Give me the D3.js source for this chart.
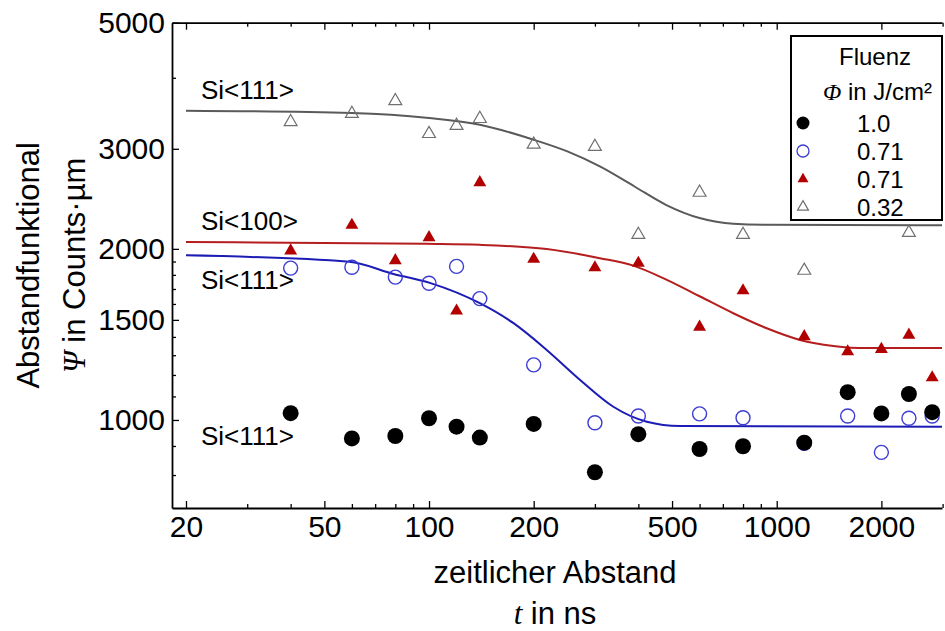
<!DOCTYPE html>
<html>
<head>
<meta charset="utf-8">
<script src="https://cdn.jsdelivr.net/npm/d3@7"></script>
<style>
  body { margin: 0; background: #fff; }
  svg { display: block; font-family: "Liberation Sans", Arial, sans-serif; }
</style>
</head>
<body>
<svg id="chart" width="945" height="631"></svg>
<script>
// Delay times between pulses (ns)
const times = [40, 60, 80, 100, 120, 140, 200, 300, 400, 600, 800, 1200, 1600, 2000, 2400, 2800];

// Distance functional Ψ (Counts·µm) per fluence series
const psiSi111Phi100 = [1028, 928, 937, 1007, 973, 931, 984, 809, 944, 889, 899, 912, 1119, 1027, 1111, 1032];
const psiSi111Phi071 = [1850, 1857, 1784, 1740, 1863, 1635, 1250, 989, 1016, 1025, 1009, 910, 1016, 877, 1007, 1016];
const psiSi100Phi071 = [1985, 2202, 1908, 2094, 1556, 2617, 1919, 1854, 1888, 1457, 1689, 1402, 1319, 1332, 1411, 1187];
const psiSi111Phi032 = [3344, 3458, 3641, 3188, 3294, 3388, 3053, 3025, 2118, 2513, 2118, 1832, null, 2290, 2135, null];

// Fitted step curves, sampled along t
const fitSi111Phi032T = [20, 60, 100, 140, 200, 250, 310, 390, 480, 600, 750, 940, 2988];
const fitSi111Phi032V = [3500, 3468, 3398, 3307, 3112, 2968, 2793, 2575, 2391, 2266, 2214, 2205, 2201];
const fitSi100Phi071T = [20, 98, 140, 218, 310, 387, 483, 602, 750, 936, 1167, 1455, 1814, 2988];
const fitSi100Phi071V = [2056, 2041, 2033, 1998, 1926, 1869, 1764, 1649, 1541, 1450, 1383, 1350, 1338, 1338];
const fitSi111Phi071T = [20, 59, 79, 101, 140, 175, 218, 272, 339, 423, 527, 2988];
const fitSi111Phi071V = [1948, 1898, 1807, 1741, 1605, 1480, 1328, 1176, 1055, 993, 976, 973];

// Legend and annotation texts
const legendTitle = "Fluenz";
const legendLabels = ["1.0", "0.71", "0.71", "0.32"];
const curveLabels = ["Si<111>", "Si<100>", "Si<111>", "Si<111>"];

// Axis ticks
const xMajorTicks = [20, 50, 100, 200, 500, 1000, 2000];
const xMinorTicks = [30, 40, 60, 70, 80, 90, 300, 400, 600, 700, 800, 900, 3000];
const yMajorTicks = [1000, 1500, 2000, 3000, 5000];
const yMinorTicks = [800, 900, 1100, 1200, 1300, 1400, 1600, 1700, 1800, 1900, 4000];

const svg = d3.select("#chart");
const L = 172, R = 942, T = 22.7, B = 508;

const x = d3.scaleLog().domain([18.23, 2988]).range([L, R]);
const y = d3.scaleLog().domain([700, 5000]).range([B, T]);

const colors = {
  black: "#000000",
  blueMark: "#3c3cd4",
  blueLine: "#1c1cb4",
  red: "#b20000",
  redLine: "#b51e1e",
  grayMark: "#707070",
  grayLine: "#5a5a5a"
};

// ---- axes ----
function styleAxis(g) {
  g.attr("font-family", null).attr("font-size", null);
  g.selectAll("path.domain").attr("stroke", "#000").attr("stroke-width", 1.8);
  g.selectAll(".tick line").attr("stroke", "#000").attr("stroke-width", 1.3);
  g.selectAll(".tick text").attr("fill", "#000").style("font-size", "30px")
    .style("font-family", "'Liberation Sans', Arial, sans-serif");
}

const fmt = d3.format("d");

svg.append("g").attr("transform", `translate(0,${B})`)
  .call(d3.axisBottom(x).tickValues(xMajorTicks).tickSize(-7).tickSizeOuter(0).tickPadding(8).tickFormat(fmt))
  .call(styleAxis);
svg.append("g").attr("transform", `translate(0,${B})`)
  .call(d3.axisBottom(x).tickValues(xMinorTicks).tickSize(-4).tickSizeOuter(0).tickFormat(""))
  .call(styleAxis).call(g => g.select(".domain").remove());

svg.append("g").attr("transform", `translate(0,${T})`)
  .call(d3.axisTop(x).tickValues(xMajorTicks).tickSize(-7).tickSizeOuter(0).tickFormat(""))
  .call(styleAxis);
svg.append("g").attr("transform", `translate(0,${T})`)
  .call(d3.axisTop(x).tickValues(xMinorTicks).tickSize(-4).tickSizeOuter(0).tickFormat(""))
  .call(styleAxis).call(g => g.select(".domain").remove());

svg.append("g").attr("transform", `translate(${L},0)`)
  .call(d3.axisLeft(y).tickValues(yMajorTicks).tickSize(-7).tickSizeOuter(0).tickPadding(7).tickFormat(fmt))
  .call(styleAxis);
svg.append("g").attr("transform", `translate(${L},0)`)
  .call(d3.axisLeft(y).tickValues(yMinorTicks).tickSize(-4).tickSizeOuter(0).tickFormat(""))
  .call(styleAxis).call(g => g.select(".domain").remove());

// ---- axis titles ----
const cx = (L + R) / 2;
svg.append("text").attr("x", cx - 2).attr("y", 583).attr("text-anchor", "middle")
  .style("font-size", "31px").text("zeitlicher Abstand");
const tLabel = svg.append("text").attr("x", cx - 2).attr("y", 624).attr("text-anchor", "middle")
  .style("font-size", "31px");
tLabel.append("tspan").style("font-family", "'Liberation Serif', serif").style("font-style", "italic").text("t");
tLabel.append("tspan").text(" in ns");

const cy = (T + B) / 2;
svg.append("text").attr("transform", `translate(39,${cy}) rotate(-90)`).attr("text-anchor", "middle")
  .style("font-size", "31px").text("Abstandfunktional");
const psiLabel = svg.append("text").attr("transform", `translate(85,${cy}) rotate(-90)`).attr("text-anchor", "middle")
  .style("font-size", "31px");
psiLabel.append("tspan").style("font-family", "'Liberation Serif', serif").style("font-style", "italic").text("Ψ");
psiLabel.append("tspan").text(" in Counts·µm");

// ---- plot content ----
svg.append("clipPath").attr("id", "plotClip")
  .append("rect").attr("x", L).attr("y", T).attr("width", R - L).attr("height", B - T);
const plot = svg.append("g").attr("clip-path", "url(#plotClip)");

const line = d3.line().x(d => x(d[0])).y(d => y(d[1])).curve(d3.curveMonotoneX);
const fits = [
  { t: fitSi111Phi032T, v: fitSi111Phi032V, color: colors.grayLine },
  { t: fitSi100Phi071T, v: fitSi100Phi071V, color: colors.redLine },
  { t: fitSi111Phi071T, v: fitSi111Phi071V, color: colors.blueLine }
];
fits.forEach(f => {
  plot.append("path").datum(d3.zip(f.t, f.v)).attr("d", line)
    .attr("fill", "none").attr("stroke", f.color).attr("stroke-width", 2);
});

function pts(vals) { return times.map((t, i) => [t, vals[i]]).filter(d => d[1] != null); }

const triBig = d3.symbol().type(d3.symbolTriangle).size(72)();
const triSmall = d3.symbol().type(d3.symbolTriangle).size(52)();

// open blue circles, Φ = 0.71
plot.append("g").selectAll("circle").data(pts(psiSi111Phi071)).join("circle")
  .attr("cx", d => x(d[0])).attr("cy", d => y(d[1])).attr("r", 7)
  .attr("fill", "none").attr("stroke", colors.blueMark).attr("stroke-width", 1.4);
// filled black circles, Φ = 1.0
plot.append("g").selectAll("circle").data(pts(psiSi111Phi100)).join("circle")
  .attr("cx", d => x(d[0])).attr("cy", d => y(d[1])).attr("r", 8).attr("fill", colors.black);
// filled red triangles, Si<100>, Φ = 0.71
plot.append("g").selectAll("path").data(pts(psiSi100Phi071)).join("path")
  .attr("transform", d => `translate(${x(d[0])},${y(d[1])})`).attr("d", triBig).attr("fill", colors.red);
// open gray triangles, Φ = 0.32
plot.append("g").selectAll("path").data(pts(psiSi111Phi032)).join("path")
  .attr("transform", d => `translate(${x(d[0])},${y(d[1])})`).attr("d", triBig)
  .attr("fill", "none").attr("stroke", colors.grayMark).attr("stroke-width", 1.2);

// curve annotations
const annoY = [99, 230, 289, 445];
curveLabels.forEach((s, i) => {
  svg.append("text").attr("x", 201).attr("y", annoY[i]).style("font-size", "26px").text(s);
});

// ---- legend ----
const lg = svg.append("g");
lg.append("rect").attr("x", 791).attr("y", 36).attr("width", 151).attr("height", 184)
  .attr("fill", "#fff").attr("stroke", "#000").attr("stroke-width", 2);
lg.append("text").attr("x", 875).attr("y", 65).attr("text-anchor", "middle")
  .style("font-size", "24px").text(legendTitle);
const phiT = lg.append("text").attr("x", 823).attr("y", 100).style("font-size", "24px");
phiT.append("tspan").style("font-family", "'Liberation Serif', serif").style("font-style", "italic").text("Φ");
phiT.append("tspan").text(" in J/cm²");

const rowY = [123, 151, 179, 207];
lg.append("circle").attr("cx", 803).attr("cy", rowY[0]).attr("r", 6.5).attr("fill", colors.black);
lg.append("circle").attr("cx", 803).attr("cy", rowY[1]).attr("r", 6)
  .attr("fill", "none").attr("stroke", colors.blueMark).attr("stroke-width", 1.3);
lg.append("path").attr("transform", `translate(803,${rowY[2]})`).attr("d", triSmall).attr("fill", colors.red);
lg.append("path").attr("transform", `translate(803,${rowY[3]})`).attr("d", triSmall)
  .attr("fill", "none").attr("stroke", colors.grayMark).attr("stroke-width", 1.2);
legendLabels.forEach((s, i) => {
  lg.append("text").attr("x", 857).attr("y", rowY[i] + 9).style("font-size", "24px").text(s);
});
</script>
</body>
</html>
